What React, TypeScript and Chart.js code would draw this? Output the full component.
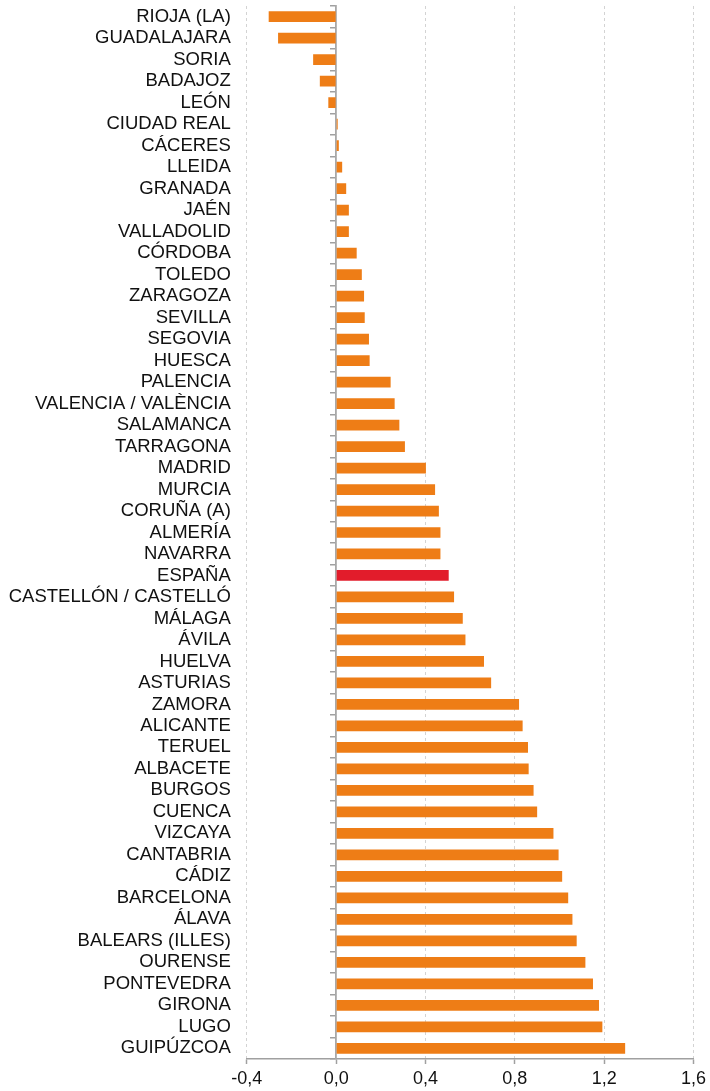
import React, { useEffect, useRef } from "react";
import { Chart, registerables } from "chart.js";

Chart.register(...registerables);

const CATEGORIES = [
  "RIOJA (LA)", "GUADALAJARA", "SORIA", "BADAJOZ", "LEÓN", "CIUDAD REAL", "CÁCERES",
  "LLEIDA", "GRANADA", "JAÉN", "VALLADOLID", "CÓRDOBA", "TOLEDO", "ZARAGOZA", "SEVILLA",
  "SEGOVIA", "HUESCA", "PALENCIA", "VALENCIA / VALÈNCIA", "SALAMANCA", "TARRAGONA",
  "MADRID", "MURCIA", "CORUÑA (A)", "ALMERÍA", "NAVARRA", "ESPAÑA", "CASTELLÓN / CASTELLÓ",
  "MÁLAGA", "ÁVILA", "HUELVA", "ASTURIAS", "ZAMORA", "ALICANTE", "TERUEL", "ALBACETE",
  "BURGOS", "CUENCA", "VIZCAYA", "CANTABRIA", "CÁDIZ", "BARCELONA", "ÁLAVA",
  "BALEARS (ILLES)", "OURENSE", "PONTEVEDRA", "GIRONA", "LUGO", "GUIPÚZCOA",
];

const VALUES = [
  -0.302, -0.26, -0.103, -0.073, -0.035, 0.007, 0.012,
  0.027, 0.045, 0.057, 0.057, 0.092, 0.115, 0.125, 0.128,
  0.147, 0.15, 0.244, 0.262, 0.283, 0.308,
  0.402, 0.443, 0.46, 0.467, 0.467, 0.504, 0.528,
  0.567, 0.579, 0.662, 0.694, 0.819, 0.835, 0.859, 0.862,
  0.884, 0.9, 0.973, 0.996, 1.012, 1.039, 1.058,
  1.077, 1.116, 1.15, 1.177, 1.192, 1.294,
];

const HIGHLIGHT = "ESPAÑA";
const X_TICK_VALUES = [-0.4, 0, 0.4, 0.8, 1.2, 1.6];

const ORANGE = "#EE7D16";
const RED = "#E21C2B";
const FONT = "'Liberation Sans', Arial, sans-serif";

export default function App() {
  const canvasRef = useRef<HTMLCanvasElement | null>(null);

  useEffect(() => {
    const canvas = canvasRef.current;
    if (!canvas) return;
    const chart = new Chart(canvas, {
      type: "bar",
      data: {
        labels: CATEGORIES,
        datasets: [
          {
            data: VALUES,
            backgroundColor: CATEGORIES.map((c) => (c === HIGHLIGHT ? RED : ORANGE)),
            borderWidth: 0,
            barPercentage: 0.5,
            categoryPercentage: 1,
            yAxisID: "y",
            xAxisID: "x",
          },
        ],
      },
      options: {
        indexAxis: "y",
        animation: false,
        responsive: true,
        maintainAspectRatio: false,
        layout: { padding: { top: 6, right: 14, left: 0, bottom: 0 } },
        plugins: {
          legend: { display: false },
          tooltip: { enabled: false },
        },
        scales: {
          x: {
            type: "linear",
            position: "bottom",
            min: -0.4,
            max: 1.6,
            afterBuildTicks: (scale: any) => {
              scale.ticks = X_TICK_VALUES.map((v) => ({ value: v }));
            },
            afterFit: (scale: any) => {
              scale.height = 32;
            },
            ticks: {
              color: "#111",
              font: { family: FONT, size: 18 },
              padding: 4,
              maxRotation: 0,
              autoSkip: false,
              callback: (v: any) => Number(v).toFixed(1).replace(".", ","),
            },
            grid: {
              color: (ctx: any) => (ctx.tick && ctx.tick.value === 0 ? "rgba(0,0,0,0)" : "#D3D3D3"),
              lineWidth: 1,
              drawTicks: true,
              tickLength: 5,
              tickColor: "#A0A0A0",
              tickBorderDash: [],
              tickWidth: 1.5,
            },
            border: { display: true, color: "#A0A0A0", width: 1.5, dash: [3, 3] },
          },
          y: {
            type: "category",
            position: "left",
            offset: true,
            afterFit: (scale: any) => {
              scale.width = 246.8;
              scale.paddingTop = 0;
              scale.paddingBottom = 0;
            },
            ticks: {
              color: "#111",
              font: { family: FONT, size: 18.5 },
              padding: 16,
              autoSkip: false,
            },
            grid: { display: false, drawTicks: false },
            border: { display: false },
          },
          y2: {
            type: "category",
            position: { x: 0 } as any,
            offset: true,
            afterFit: (scale: any) => {
              scale.paddingTop = 0;
              scale.paddingBottom = 0;
            },
            ticks: { display: false, padding: 0 },
            grid: {
              display: true,
              drawOnChartArea: false,
              drawTicks: true,
              tickLength: 5,
              color: "#A0A0A0",
              lineWidth: 1.5,
              offset: true,
            },
            border: { display: true, color: "#A8A8A8", width: 1.8 },
          },
        },
      },
    });
    return () => chart.destroy();
  }, []);

  return (
    <div style={{ position: "fixed", left: 0, top: 0, width: 710, height: 1091, background: "#fff" }}>
      <canvas ref={canvasRef} />
    </div>
  );
}
